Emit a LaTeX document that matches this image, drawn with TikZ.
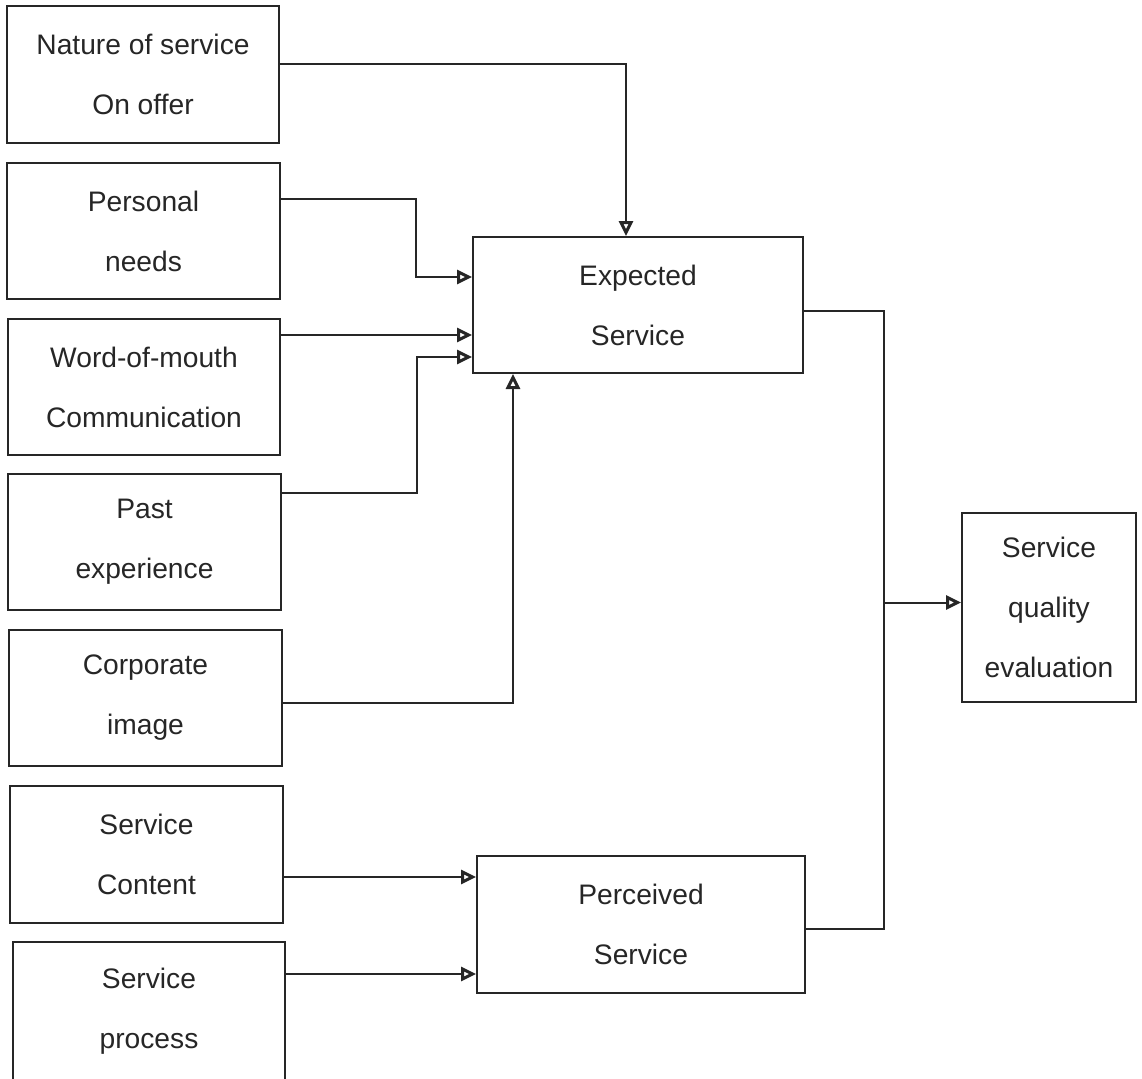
\documentclass[tikz,border=0pt]{standalone}
\usepackage{fontspec}
\setmainfont{Liberation Sans}
\usetikzlibrary{arrows.meta}
\begin{document}
\begin{tikzpicture}[x=0.5pt,y=-0.5pt,
  box/.style={draw=black!85, line width=1pt, align=center, inner sep=0pt,
    font=\fontsize{14.1}{30}\selectfont, text=black!85},
  link/.style={draw=black!85, line width=1pt},
  arr/.style={link, -{Triangle[open,length=7.5pt,width=7pt,line width=1.5pt]}}]
\useasboundingbox (0,0) rectangle (1142,1078);
% source factors on the left
\node[box, minimum width=136pt, minimum height=68.5pt] (nat) at (143,74.5) {Nature of service\\On offer};
\node[box, minimum width=136.5pt, minimum height=68pt] (pn) at (143.5,231) {Personal\\needs};
\node[box, minimum width=136pt, minimum height=68pt] (wom) at (144,387) {Word-of-mouth\\Communication};
\node[box, minimum width=136.5pt, minimum height=68pt] (past) at (144.5,542) {Past\\experience};
\node[box, minimum width=136.5pt, minimum height=68pt] (corp) at (145.5,698) {Corporate\\image};
\node[box, minimum width=136.5pt, minimum height=68.5pt] (cont) at (146.5,854.5) {Service\\Content};
\node[box, minimum width=136pt, minimum height=69pt] (proc) at (149,1011) {Service\\process};
% expected / perceived service
\node[box, minimum width=165pt, minimum height=68pt] (exp) at (638,305) {Expected\\Service};
\node[box, minimum width=164pt, minimum height=68.5pt] (per) at (641,924.5) {Perceived\\Service};
% outcome
\node[box, minimum width=87pt, minimum height=94.5pt] (sqe) at (1049,607.5) {Service\\quality\\evaluation};
% links into expected service
\draw[arr] ([yshift=5.25pt]nat.east) -| ([xshift=-6pt]exp.north);
\draw[arr] ([yshift=16pt]pn.east) -- ++(135,0) |- ([yshift=14pt]exp.west);
\draw[arr] ([yshift=26pt]wom.east) -- ([yshift=-15pt]exp.west);
\draw[arr] ([yshift=24.5pt]past.east) -- ++(135,0) |- ([yshift=-26pt]exp.west);
\draw[arr] ([yshift=-2.5pt]corp.east) -| ([xshift=-62.5pt]exp.south);
% links into perceived service
\draw[arr] ([yshift=-11.25pt]cont.east) -- ([yshift=23.75pt]per.west);
\draw[arr] ([yshift=18.5pt]proc.east) -- ([yshift=-24.75pt]per.west);
% both services join and lead to the evaluation
\draw[link] ([yshift=-3pt]exp.east) -- ++(80,0) coordinate (jt) |- ([yshift=-2.25pt]per.east);
\coordinate (q) at ([yshift=2.5pt]sqe.west);
\draw[arr] (jt |- q) -- (q);
\end{tikzpicture}
\end{document}
